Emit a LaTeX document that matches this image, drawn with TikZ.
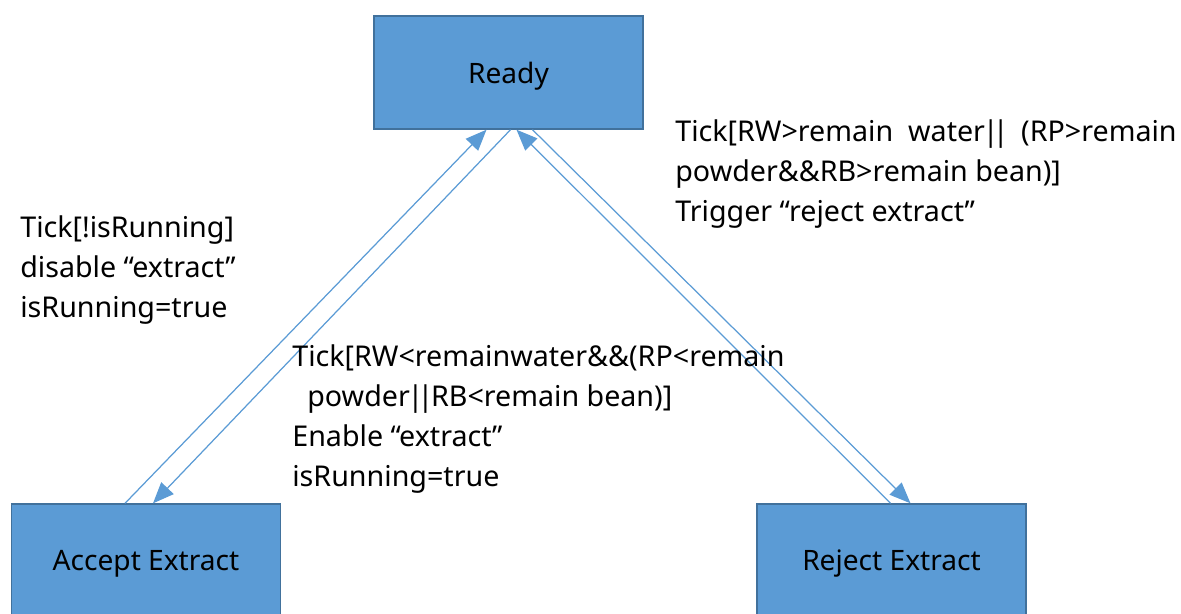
\documentclass[tikz,border=0pt]{standalone}
\usepackage{fontspec}
\setmainfont{Noto Sans}
\usetikzlibrary{arrows.meta,calc}
\definecolor{stateblue}{HTML}{5B9BD5}
\definecolor{stateedge}{HTML}{41719C}
\newcommand{\bars}{\kern-0.08em|\kern-0.2em|\kern-0.08em}
\tikzset{
  state/.style={draw=stateedge, line width=0.8pt, fill=stateblue, minimum width=5.38cm, minimum height=2.26cm, inner sep=0pt, text depth=0pt, font=\fontsize{16}{20}\selectfont},
  trans/.style={draw=stateblue, line width=0.7pt, -{Triangle[length=0.42cm,width=0.34cm]}},
  guard/.style={align=left, anchor=north west, inner sep=0pt, font=\fontsize{16.3}{22.8}\selectfont},
}

\begin{document}
\begin{tikzpicture}[x=0.02cm, y=-0.02cm]
			%%%%% START %%%%%
			
			\clip (0, 0) rectangle (1181, 613);
			
			\node[state] (ready) at (508.5, 72.5) {Ready};
			\node[state] (accept) at (146, 560.5) {Accept Extract};
			\node[state] (reject) at (891.5, 560.5) {Reject Extract};
			
			\draw[trans] ($(accept.north)+(-21, 0)$) -- ($(ready.south)+(-22, 0)$);
			\draw[trans] ($(ready.south)+(2, 0)$) -- ($(accept.north)+(7, 0)$);
			\draw[trans] ($(reject.north)+(-1, 0)$) -- ($(ready.south)+(8, 0)$);
			\draw[trans] ($(ready.south)+(24, 0)$) -- ($(reject.north)+(19, 0)$);
			
			\node[guard] (toready) at (20, 215) {Tick[!isRunning]\\disable “extract”\\isRunning=true};
			\node[guard] (toaccept) at (292, 344) {Tick[RW<remainwater\&\&(RP<remain\\\hspace{0.3cm}powder\bars RB<remain bean)]\\Enable “extract”\\isRunning=true};
			\node[guard] (toreject) at (675, 119) {Tick[RW>remain\ \ water\bars\ \ (RP>remain\\powder\&\&RB>remain bean)]\\Trigger “reject extract”};
			
			%%%%% END %%%%%
		\end{tikzpicture}
\end{document}
